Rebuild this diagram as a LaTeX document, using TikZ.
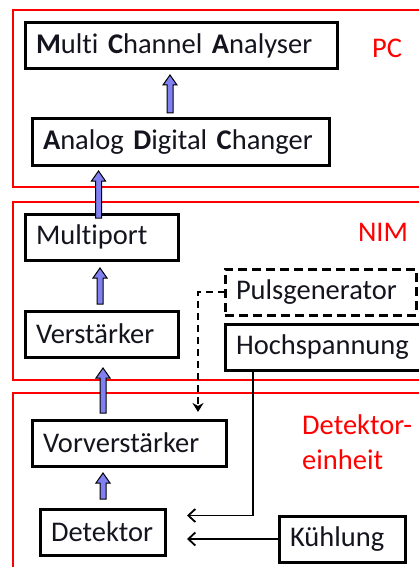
\documentclass[tikz,border=0pt]{standalone}
\usepackage{fontspec}
\setmainfont{Carlito}[Ligatures={NoCommon}]
\usetikzlibrary{calc,arrows.meta}
\definecolor{arrowblue}{RGB}{128,128,240}
\definecolor{txt}{RGB}{20,20,30}
\tikzset{
  frame/.style={draw=red, line width=1.6pt},
  box/.style={draw=black, line width=3pt, anchor=north west, outer sep=0pt,
    inner xsep=11pt, inner ysep=0pt, align=left, minimum height=46pt,
    font=\fontsize{28.5}{32}\selectfont, text=txt},
  dbox/.style={box, dash pattern=on 9pt off 5pt},
  grouplabel/.style={text=red, font=\fontsize{28.5}{35}\selectfont, inner sep=0pt, align=left},
  blockarrow/.style={draw=black, fill=arrowblue, line width=1pt, line join=miter,
    to path={let \p1=(\tikztostart), \p2=(\tikztotarget) in
      (\x1-3pt,\y1) -- (\x1-3pt,\y2-10pt) -- (\x1-7pt,\y2-10pt) -- (\x1,\y2)
      -- (\x1+7pt,\y2-10pt) -- (\x1+3pt,\y2-10pt) -- (\x1+3pt,\y1) -- cycle}},
  conn/.style={draw=black, line width=1.6pt, -{Straight Barb[length=7pt,width=13pt,line width=1.8pt]}},
  dashconn/.style={draw=black, line width=1.6pt, dash pattern=on 7pt off 5pt, -{Stealth[length=9pt,width=11pt]}}
}
\begin{document}
\begin{tikzpicture}[x=1pt,y=-1pt]
\useasboundingbox (0,0) rectangle (418,567);
% group frames
\draw[frame] (430,10) -- (13,10) -- (13,187) -- (430,187);
\draw[frame] (430,202) -- (13,202) -- (13,380) -- (430,380);
\draw[frame] (430,393) -- (13,393) -- (13,580);
\node[grouplabel] (lpc) at (387,48) {PC};
\node[grouplabel] (lnim) at (383,232) {NIM};
\node[grouplabel, anchor=west] (ldet) at (302,442) {Detektor-\\einheit};
% boxes
\node[box, minimum width=312pt, text width=290pt] (mca) at (25,23) {\textbf{M}ulti \textbf{C}hannel \textbf{A}nalyser};
\node[box, minimum width=297pt, text width=275pt] (adc) at (32,119) {\textbf{A}nalog \textbf{D}igital \textbf{C}hanger};
\node[box, minimum width=153pt, text width=131pt] (mp) at (25,214) {Multiport};
\node[box, minimum width=153pt, text width=131pt] (vst) at (25,311) {Verstärker};
\node[dbox, minimum width=191pt, text width=169pt] (pg) at (225,269) {Pulsgenerator};
\node[box, minimum width=200pt, text width=178pt] (hv) at (225,324) {Hochspannung};
\node[box, minimum width=194pt, text width=172pt] (vv) at (32,420) {Vorverstärker};
\node[box, minimum width=125pt, text width=103pt, inner xsep=10pt] (det) at (40,509) {Detektor};
\node[box, minimum width=126pt, text width=104pt] (kue) at (279,516) {Kühlung};
% block arrows
\draw[blockarrow] ($(adc.north)+(-10.5,-6)$) to ($(mca.south)+(-11,6)$);
\draw[blockarrow] ($(mp.north)+(-3,4)$) to ($(adc.south)+(-82,6)$);
\draw[blockarrow] ($(vst.north)+(-1.5,-7)$) to ($(mp.south)+(-1.5,8)$);
\draw[blockarrow] ($(vv.north)+(-26,-7)$) to ($(vst.south)+(1.5,11)$);
\draw[blockarrow] ($(det.north)+(0.5,-10)$) to ($(vv.south)+(-26,7)$);
% connectors
\draw[dashconn] (pg.west) -| ($(vv.north east)+(-28,-8)$);
\draw[conn] ($(hv.south west)+(28,0)$) |- ($(det.east)+(22,-16.5)$);
\draw[conn] (kue.west) -- ($(det.east |- kue.west)+(22,0)$);
\end{tikzpicture}
\end{document}
